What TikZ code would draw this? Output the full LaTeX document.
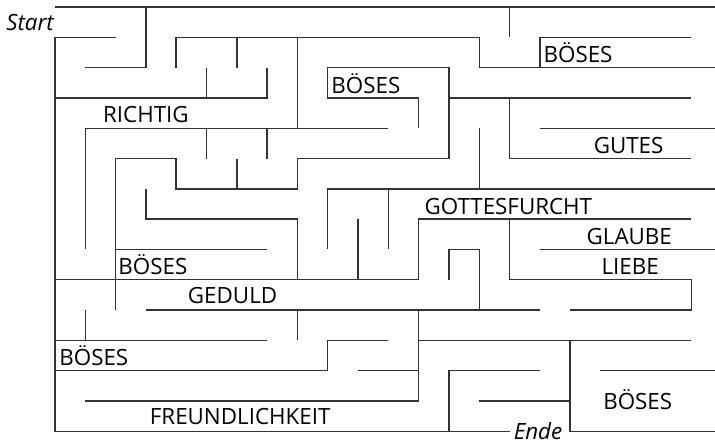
\documentclass[tikz,border=0pt]{standalone}
\usepackage{fontspec}
\setmainfont{Open Sans}
\begin{document}
\begin{tikzpicture}[x=0.8cm, y=-0.8cm,
        wand/.style={draw=black!80, line width=1.1pt},
        wort/.style={font=\fontsize{16.8}{20}\selectfont, inner sep=0pt, anchor=base},
        marke/.style={wort, font=\fontsize{16.8}{20}\selectfont\itshape}
    ]
    \useasboundingbox (-1.815,-0.232) rectangle (21.78,14.437);
    % Rand
    \draw[wand] (0,0) -- (21.8,0);
    \draw[wand] (2,1) -- (0,1) -- (0,14) -- (15,14);
    \draw[wand] (17,11) -- (17,14) -- (21.8,14);
    % obere Haelfte
    \draw[wand] (1,2) -- (3,2) -- (3,0);
    \draw[wand] (4,2) -- (4,1) -- (14,1) -- (14,2) -- (21.8,2);
    \draw[wand] (6,1) -- (6,2);
    \draw[wand] (8,1) -- (8,4);
    \draw[wand] (15,0) -- (15,1);
    \draw[wand] (16,2) -- (16,1) -- (21,1);
    \draw[wand] (5,2) -- (5,3);
    \draw[wand] (0,3) -- (7,3) -- (7,2);
    \draw[wand] (12,4) -- (12,3) -- (9,3) -- (9,2) -- (13,2) -- (13,5) -- (8,5) -- (8,6)
        -- (4,6) -- (4,5) -- (2,5) -- (2,10);
    \draw[wand] (13,3) -- (21,3);
    \draw[wand] (1,8) -- (1,4) -- (11,4);
    \draw[wand] (5,4) -- (5,5);
    \draw[wand] (7,4) -- (7,5);
    \draw[wand] (6,5) -- (6,6);
    \draw[wand] (14,4) -- (14,6);
    \draw[wand] (15,3) -- (15,5) -- (21,5);
    \draw[wand] (16,4) -- (21.8,4);
    % Mitte
    \draw[wand] (9,8) -- (9,6) -- (21.8,6);
    \draw[wand] (11,6) -- (11,8);
    \draw[wand] (3,6) -- (3,7) -- (8,7) -- (8,9);
    \draw[wand] (2,8) -- (7,8);
    \draw[wand] (0,9) -- (12,9) -- (12,7) -- (21,7);
    \draw[wand] (10,7) -- (10,9);
    \draw[wand] (15,7) -- (15,9) -- (21,9) -- (21,10) -- (17,10);
    \draw[wand] (16,8) -- (21.8,8);
    \draw[wand] (13,9) -- (13,8) -- (14,8) -- (14,10);
    % untere Haelfte
    \draw[wand] (3,10) -- (16,10);
    \draw[wand] (1,10) -- (1,11);
    \draw[wand] (0,11) -- (7,11);
    \draw[wand] (8,10) -- (8,11);
    \draw[wand] (11,11) -- (9,11) -- (9,12) -- (0,12);
    \draw[wand] (10,12) -- (12,12);
    \draw[wand] (12,10) -- (12,13) -- (1,13);
    \draw[wand] (12,11) -- (21,11);
    \draw[wand] (13,14) -- (13,12) -- (16,12);
    \draw[wand] (14,13) -- (17,13);
    \draw[wand] (18,12) -- (21.8,12);
    % Beschriftung
    \node[marke] (start) at (-0.825,0.78) {Start};
    \node[marke] (ende) at (15.94,14.28) {Ende};
    \node[wort] (richtig) at (3.0,3.80) {RICHTIG};
    \node[wort] (boeses1) at (10.26,2.84) {BÖSES};
    \node[wort] (boeses2) at (17.26,1.84) {BÖSES};
    \node[wort] (gutes) at (18.93,4.82) {GUTES};
    \node[wort] (boeses3) at (3.23,8.84) {BÖSES};
    \node[wort] (furcht) at (14.96,6.83) {GOTTESFURCHT};
    \node[wort] (glaube) at (18.95,7.83) {GLAUBE};
    \node[wort] (liebe) at (18.98,8.82) {LIEBE};
    \node[wort] (geduld) at (5.86,9.79) {GEDULD};
    \node[wort] (boeses4) at (1.28,11.82) {BÖSES};
    \node[wort] (freundl) at (6.11,13.78) {FREUNDLICHKEIT};
    \node[wort] (boeses5) at (19.23,13.29) {BÖSES};
\end{tikzpicture}
\end{document}
